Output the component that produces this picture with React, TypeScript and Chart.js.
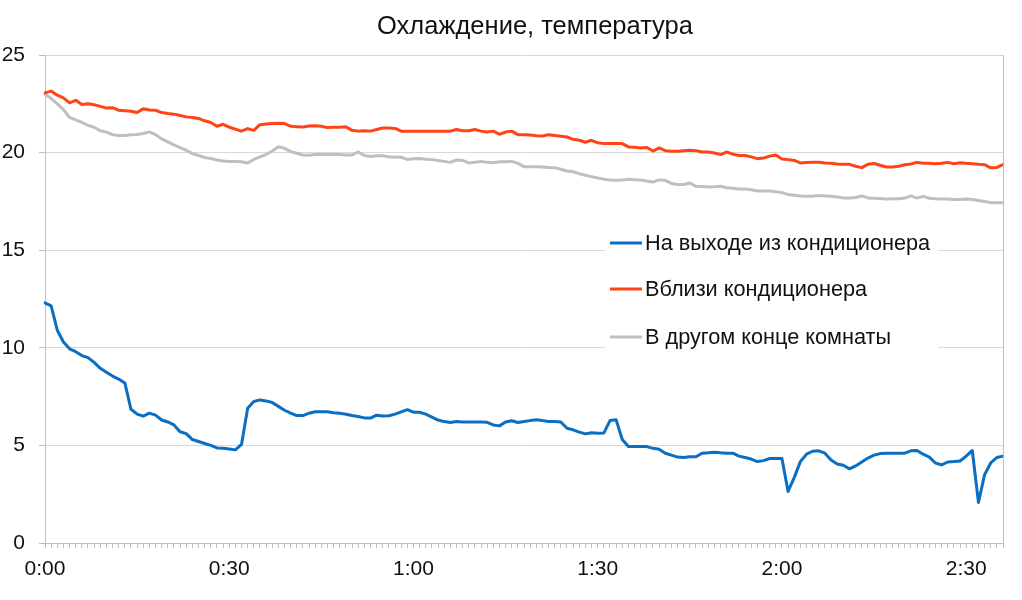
import { useEffect, useRef } from "react";
import { Chart, registerables } from "chart.js";

Chart.register(...registerables);

const chartTitle = "Охлаждение, температура";
const seriesNames = ["На выходе из кондиционера", "Вблизи кондиционера", "В другом конце комнаты"];
const seriesColors = ["#0A6EC2", "#FF4316", "#BFBFBF"];

const outletTemp = [
  12.3, 12.15, 10.9, 10.3, 9.95, 9.8, 9.6, 9.5, 9.25, 8.95,
  8.75, 8.55, 8.4, 8.2, 6.85, 6.6, 6.5, 6.65, 6.55, 6.3,
  6.2, 6.05, 5.7, 5.6, 5.3, 5.2, 5.1, 5.0, 4.87, 4.85,
  4.82, 4.77, 5.05, 6.9, 7.25, 7.33, 7.28, 7.2, 7.0, 6.8,
  6.65, 6.53, 6.53, 6.65, 6.72, 6.72, 6.72, 6.67, 6.65, 6.6,
  6.53, 6.48, 6.41, 6.4, 6.55, 6.51, 6.52, 6.6, 6.72, 6.83,
  6.7, 6.7, 6.6, 6.45, 6.3, 6.22, 6.17, 6.22, 6.2, 6.2,
  6.2, 6.2, 6.18, 6.05, 6.0, 6.2, 6.26, 6.17, 6.22, 6.27,
  6.31, 6.27, 6.22, 6.22, 6.2, 5.88, 5.8, 5.68, 5.59, 5.65,
  5.62, 5.63, 6.27, 6.31, 5.3, 4.94, 4.94, 4.94, 4.94, 4.85,
  4.8, 4.6, 4.5, 4.4, 4.38, 4.42, 4.42, 4.6, 4.62, 4.65,
  4.62, 4.6, 4.6, 4.45, 4.38, 4.3, 4.17, 4.22, 4.33, 4.33,
  4.33, 2.64, 3.35, 4.17, 4.55, 4.7, 4.72, 4.6, 4.25, 4.05,
  3.98, 3.8, 3.95, 4.15, 4.35, 4.5, 4.58, 4.6, 4.6, 4.6,
  4.6, 4.72, 4.74, 4.55, 4.4, 4.1, 4.0, 4.15, 4.17, 4.2,
  4.45, 4.74, 2.08, 3.5, 4.1, 4.38, 4.45,
];

const nearTemp = [
  23.06, 23.15, 22.94, 22.8, 22.55, 22.68, 22.46, 22.5, 22.45, 22.37,
  22.28, 22.3, 22.17, 22.15, 22.12, 22.05, 22.25, 22.18, 22.17, 22.05,
  22.0, 21.97, 21.9, 21.83, 21.8, 21.75, 21.63, 21.54, 21.35, 21.45,
  21.3, 21.2, 21.1, 21.23, 21.14, 21.43, 21.47, 21.49, 21.5, 21.49,
  21.35, 21.33, 21.31, 21.36, 21.38, 21.35, 21.28, 21.3, 21.3, 21.32,
  21.14, 21.1, 21.12, 21.1, 21.18, 21.26, 21.26, 21.24, 21.1, 21.1,
  21.1, 21.1, 21.1, 21.1, 21.1, 21.1, 21.1, 21.18, 21.12, 21.12,
  21.18, 21.1, 21.06, 21.1, 20.94, 21.05, 21.1, 20.92, 20.92, 20.9,
  20.86, 20.85, 20.92, 20.88, 20.84, 20.8, 20.68, 20.63, 20.53, 20.63,
  20.5, 20.46, 20.46, 20.46, 20.46, 20.29, 20.27, 20.24, 20.26, 20.08,
  20.24, 20.1, 20.07, 20.07, 20.1, 20.12, 20.1, 20.03, 20.03, 19.98,
  19.9, 20.03, 19.92, 19.85, 19.85, 19.78, 19.69, 19.72, 19.82, 19.88,
  19.67, 19.64, 19.6, 19.47, 19.49, 19.5, 19.5, 19.47, 19.45, 19.42,
  19.4, 19.4, 19.3, 19.23, 19.4, 19.44, 19.35, 19.26, 19.26, 19.3,
  19.38, 19.42, 19.5, 19.45, 19.45, 19.43, 19.45, 19.5, 19.43, 19.48,
  19.45, 19.43, 19.4, 19.38, 19.22, 19.24, 19.38,
];

const farTemp = [
  23.0, 22.77, 22.5, 22.2, 21.8, 21.68, 21.55, 21.4, 21.3, 21.12,
  21.05, 20.92, 20.87, 20.88, 20.92, 20.93, 20.98, 21.06, 20.92, 20.7,
  20.55, 20.4, 20.25, 20.12, 19.95, 19.85, 19.75, 19.7, 19.62, 19.57,
  19.55, 19.55, 19.53, 19.47, 19.65, 19.78, 19.9, 20.08, 20.3, 20.22,
  20.05, 19.97, 19.88, 19.86, 19.9, 19.9, 19.9, 19.9, 19.9, 19.88,
  19.88, 20.03, 19.85, 19.8, 19.84, 19.84, 19.78, 19.77, 19.76, 19.65,
  19.68, 19.7, 19.66, 19.64, 19.6, 19.55, 19.5, 19.62, 19.6, 19.47,
  19.5, 19.55, 19.5, 19.48, 19.53, 19.53, 19.55, 19.45, 19.28, 19.28,
  19.28, 19.26, 19.24, 19.23, 19.15, 19.06, 19.02, 18.92, 18.84, 18.77,
  18.7, 18.64, 18.6, 18.58, 18.6, 18.63, 18.61, 18.6, 18.55, 18.49,
  18.6, 18.58, 18.42, 18.37, 18.37, 18.44, 18.27, 18.26, 18.24, 18.25,
  18.28, 18.2, 18.17, 18.13, 18.13, 18.1, 18.03, 18.03, 18.03, 18.0,
  17.95, 17.85, 17.81, 17.78, 17.76, 17.77, 17.8, 17.78, 17.76, 17.72,
  17.67, 17.68, 17.7, 17.78, 17.68, 17.66, 17.65, 17.62, 17.63, 17.63,
  17.67, 17.78, 17.67, 17.76, 17.66, 17.63, 17.62, 17.62, 17.6, 17.6,
  17.62, 17.6, 17.55, 17.5, 17.43, 17.43, 17.43,
];

const tickLabels = ["0:00", "0:30", "1:00", "1:30", "2:00", "2:30"];
const yMin = 0;
const yMax = 25;
const yStep = 5;

const categories = outletTemp.map(
  (_, i) => `${Math.floor(i / 60)}:${String(i % 60).padStart(2, "0")}`
);

const FONT = "'Liberation Sans', Arial, sans-serif";
const TEXT = "#111111";

const decorPlugin = {
  id: "decor",
  afterDatasetsDraw(chart: any) {
    const { ctx, chartArea } = chart;
    ctx.save();
    // right border of plot
    ctx.strokeStyle = "#bfbfbf";
    ctx.lineWidth = 1;
    ctx.beginPath();
    ctx.moveTo(Math.round(chartArea.right) + 0.5, chartArea.top);
    ctx.lineTo(Math.round(chartArea.right) + 0.5, chartArea.bottom + 5);
    ctx.stroke();

    // title
    ctx.fillStyle = TEXT;
    ctx.font = `25.5px ${FONT}`;
    ctx.textAlign = "center";
    ctx.textBaseline = "alphabetic";
    ctx.fillText(chartTitle, 535, 34);

    // legend box
    const lx = 605;
    const ly = 222;
    ctx.fillStyle = "#ffffff";
    ctx.fillRect(lx, ly, 333, 134);
    const rows = [243, 289, 337];
    chart.data.datasets.forEach((ds: any, i: number) => {
      const y = rows[i];
      ctx.strokeStyle = ds.borderColor;
      ctx.lineWidth = 3;
      ctx.beginPath();
      ctx.moveTo(610, y);
      ctx.lineTo(642, y);
      ctx.stroke();
      ctx.fillStyle = TEXT;
      ctx.font = `21.7px ${FONT}`;
      ctx.textAlign = "left";
      ctx.textBaseline = "middle";
      ctx.fillText(ds.label, 645, y + 1);
    });
    ctx.restore();
  },
};

export default function App() {
  const ref = useRef<HTMLCanvasElement | null>(null);

  useEffect(() => {
    if (!ref.current) return;
    const chart = new Chart(ref.current, {
      type: "line",
      data: {
        labels: categories,
        datasets: [
          { label: seriesNames[0], data: outletTemp, borderColor: seriesColors[0], backgroundColor: seriesColors[0] },
          { label: seriesNames[1], data: nearTemp, borderColor: seriesColors[1], backgroundColor: seriesColors[1] },
          { label: seriesNames[2], data: farTemp, borderColor: seriesColors[2], backgroundColor: seriesColors[2] },
        ],
      },
      options: {
        animation: false,
        responsive: false,
        maintainAspectRatio: false,
        devicePixelRatio: 1,
        layout: { padding: { left: 0, right: 19, top: 55, bottom: 0 } },
        elements: {
          point: { radius: 0, hoverRadius: 0 },
          line: { borderWidth: 3, tension: 0, borderJoinStyle: "round", borderCapStyle: "round" },
        },
        plugins: {
          legend: { display: false },
          title: { display: false },
          tooltip: { enabled: false },
        },
        scales: {
          x: {
            type: "category",
            offset: false,
            afterFit(scale: any) {
              scale.height = 57;
            },
            grid: {
              drawOnChartArea: false,
              drawTicks: true,
              tickLength: 5,
              tickColor: "#bfbfbf",
              color: "#bfbfbf",
            },
            border: { display: true, color: "#bfbfbf", width: 1 },
            ticks: {
              autoSkip: false,
              maxRotation: 0,
              minRotation: 0,
              padding: 9,
              color: TEXT,
              font: { family: FONT, size: 21 },
              callback: (_v: any, idx: number) => {
                const lab = categories[idx];
                return tickLabels.includes(lab) ? lab : "";
              },
            },
          },
          y: {
            min: yMin,
            max: yMax,
            afterFit(scale: any) {
              scale.width = 45;
            },
            grid: {
              color: "#d9d9d9",
              lineWidth: 1,
              drawTicks: true,
              tickLength: 6,
              tickColor: "#bfbfbf",
            },
            border: { display: true, color: "#bfbfbf", width: 1 },
            ticks: {
              stepSize: yStep,
              padding: 14,
              color: TEXT,
              font: { family: FONT, size: 21 },
            },
          },
        },
      },
      plugins: [decorPlugin],
    } as any);
    return () => chart.destroy();
  }, []);

  return (
    <div style={{ position: "fixed", left: 0, top: 0, width: 1022, height: 600, background: "#fff" }}>
      <canvas ref={ref} width={1022} height={600} style={{ width: 1022, height: 600 }} />
    </div>
  );
}
